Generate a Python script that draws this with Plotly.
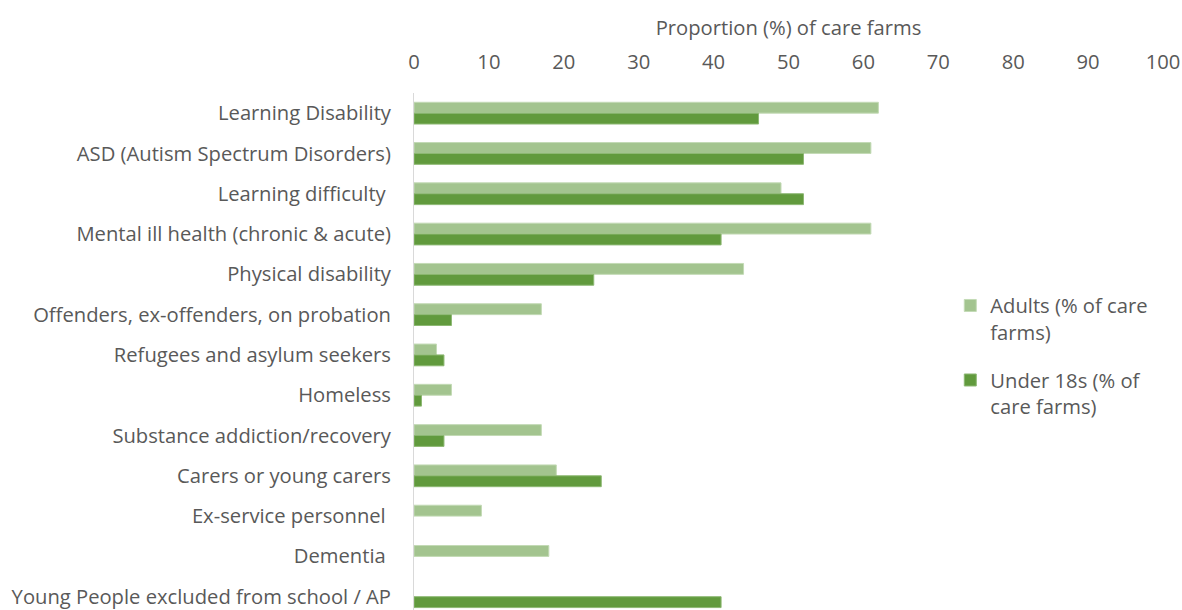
import plotly.graph_objects as go

categories = [
    "Learning Disability",
    "ASD (Autism Spectrum Disorders)",
    "Learning difficulty ",
    "Mental ill health (chronic & acute)",
    "Physical disability",
    "Offenders, ex-offenders, on probation",
    "Refugees and asylum seekers",
    "Homeless",
    "Substance addiction/recovery",
    "Carers or young carers",
    "Ex-service personnel ",
    "Dementia ",
    "Young People excluded from school / AP",
]
adults = [62, 61, 49, 61, 44, 17, 3, 5, 17, 19, 9, 18, None]
under18 = [46, 52, 52, 41, 24, 5, 4, 1, 4, 25, None, None, 41]
x_ticks = [0, 10, 20, 30, 40, 50, 60, 70, 80, 90, 100]

FONT = "Open Sans"
FS = 20.2
GREY = "#595959"

fig = go.Figure()
fig.add_trace(go.Bar(
    y=categories, x=adults, orientation="h",
    name="Adults (% of care<br>farms)", legendgroup="a",
    marker=dict(color="#A3C48F", line=dict(color="#C3DAB5", width=1)),
))
fig.add_trace(go.Bar(
    y=categories, x=under18, orientation="h",
    name="Under 18s (% of<br>care farms)", legendgroup="b",
    marker=dict(color="#619A3D", line=dict(color="#8DB873", width=1)),
))

fig.update_layout(
    width=1182, height=610,
    margin=dict(l=414, r=19, t=93, b=0, autoexpand=False),
    plot_bgcolor="white", paper_bgcolor="white",
    barmode="group", bargap=0.46, bargroupgap=0,
    font=dict(family=FONT, size=FS, color=GREY),
    showlegend=True,
    legend=dict(
        x=0.716, y=0.627, xanchor="left", yanchor="top",
        valign="top",
        font=dict(family=FONT, size=FS, color=GREY),
        tracegroupgap=19, itemwidth=30,
        bgcolor="rgba(0,0,0,0)",
    ),
    xaxis=dict(
        side="top", range=[0, 100], tickvals=x_ticks,
        showgrid=False, zeroline=False, showline=False,
        ticks="outside", ticklen=15, tickcolor="rgba(0,0,0,0)",
        tickfont=dict(family=FONT, size=FS, color=GREY),
        title=dict(text="Proportion (%) of care farms", standoff=5,
                   font=dict(family=FONT, size=FS, color=GREY)),
        fixedrange=True,
    ),
    yaxis=dict(
        type="category", categoryorder="array", categoryarray=categories,
        range=[12.33, -0.5],
        showgrid=False, zeroline=False,
        showline=True, linecolor="#D9D9D9", linewidth=1,
        ticks="outside", ticklen=18, tickcolor="rgba(0,0,0,0)",
        tickfont=dict(family=FONT, size=FS, color=GREY),
        fixedrange=True,
    ),
)

fig.write_html("out.html")
